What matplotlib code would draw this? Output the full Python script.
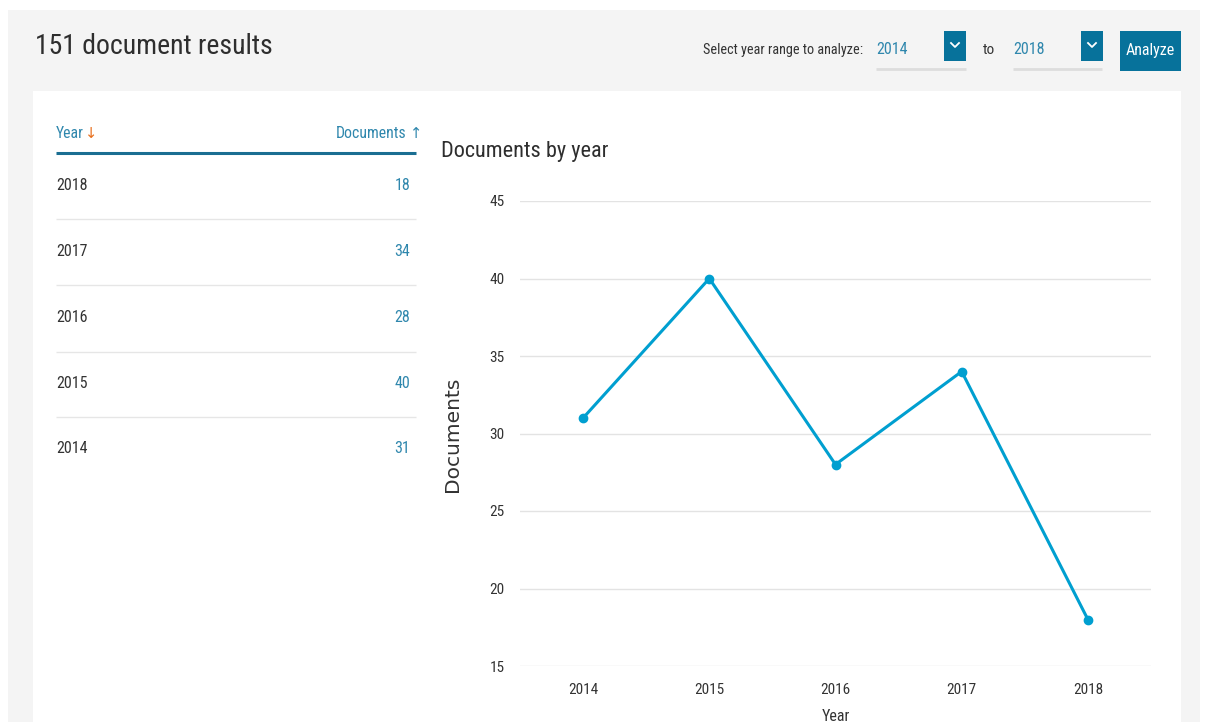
import matplotlib
matplotlib.use("Agg")
import matplotlib.pyplot as plt
from matplotlib import font_manager
from matplotlib.patches import Rectangle
from matplotlib.lines import Line2D

# ---------------- data ----------------
years = ["2014", "2015", "2016", "2017", "2018"]
documents = [31, 40, 28, 34, 18]
table_years = ["2018", "2017", "2016", "2015", "2014"]
table_docs = [18, 34, 28, 40, 31]
y_ticks = [15, 20, 25, 30, 35, 40, 45]
total_results = 151
range_from = "2014"
range_to = "2018"

# ---------------- fonts ----------------
available = {f.name for f in font_manager.fontManager.ttflist}
NARROW = next((f for f in ["Liberation Sans Narrow", "Roboto Condensed", "Open Sans Condensed",
                           "Lato", "Roboto"] if f in available), "DejaVu Sans")
FAM = [NARROW, "DejaVu Sans"]

W, H = 1207, 722
fig = plt.figure(figsize=(W / 100, H / 100), dpi=100)
fig.patch.set_facecolor("white")


def fx(x):
    return x / W


def fy(y):
    return 1 - y / H


def rect(x0, y0, x1, y1, color, z=0):
    fig.patches.append(Rectangle((fx(x0), fy(y1)), (x1 - x0) / W, (y1 - y0) / H,
                                 transform=fig.transFigure, facecolor=color,
                                 edgecolor="none", zorder=z))


def hline(x0, x1, y, color, lw):
    fig.lines.append(Line2D([fx(x0), fx(x1)], [fy(y), fy(y)], transform=fig.transFigure,
                            color=color, lw=lw, solid_capstyle="butt", zorder=2))


def text(x, y, s, size, color="#333333", ha="left", va="center", family=None, **kw):
    return fig.text(fx(x), fy(y), s, fontsize=size, color=color, ha=ha, va=va,
                    family=family or FAM, **kw)


# backgrounds
rect(8, 10, 1200, 722, "#f4f4f4", z=0)
rect(33, 91, 1181, 722, "#ffffff", z=1)

# header
text(35, 47, f"{total_results} document results", 20, color="#2e2e2e")
text(703, 50, "Select year range to analyze:", 10.3, color="#333333")
text(876, 49, range_from, 11.5, color="#2f87ad")
text(1013, 49, range_to, 11.5, color="#2f87ad")
text(983, 50, "to", 11, color="#333333")
hline(876, 966, 69, "#dddddd", 2)
hline(1013, 1102, 69, "#dddddd", 2)
for x0 in (944, 1081):
    rect(x0, 31, x0 + 22, 61, "#07729b", z=2)
    cx, cy = x0 + 11, 45
    fig.lines.append(Line2D([fx(cx - 4), fx(cx), fx(cx + 4)], [fy(cy - 2), fy(cy + 2), fy(cy - 2)],
                            transform=fig.transFigure, color="white", lw=1.3, zorder=3))
rect(1120, 31, 1181, 71, "#07729b", z=2)
text(1150.5, 50, "Analyze", 11.5, color="white", ha="center", zorder=3)

# left table
text(56, 133, "Year", 11.3, color="#2f87ad", zorder=3)
text(85, 134, "↓", 10.5, color="#e8701e", family=["DejaVu Sans"], zorder=3)
text(406, 133, "Documents", 11.3, color="#2f87ad", ha="right", zorder=3)
text(410, 134, "↑", 10.5, color="#2f87ad", family=["DejaVu Sans"], zorder=3)
hline(56, 416, 153, "#1a6e92", 2.2)
row_y = [185, 251, 318, 383, 449]
for i, (yr, d) in enumerate(zip(table_years, table_docs)):
    text(56, row_y[i], yr, 11.5, color="#333333", zorder=3)
    text(410, row_y[i], str(d), 11.5, color="#2f87ad", ha="right", zorder=3)
    if i < len(table_years) - 1:
        hline(56, 416, row_y[i] + 34, "#e6e6e6", 1)

# chart
text(441, 151, "Documents by year", 16, color="#2e2e2e", zorder=3)
ax = fig.add_axes([fx(520), fy(666), (1151 - 520) / W, (666 - 201) / H], zorder=3)
ax.set_facecolor("none")
xs = list(range(len(years)))
ax.plot(xs, documents, color="#009fd0", lw=2.2, marker="o", markersize=6, zorder=3)
ax.set_xlim(-0.5, len(years) - 0.5)
ax.set_ylim(min(y_ticks), max(y_ticks))
ax.set_yticks(y_ticks)
ax.set_xticks(xs)
ax.set_xticklabels(years)
for s in ax.spines.values():
    s.set_visible(False)
ax.grid(axis="y", color="#e3e3e3", lw=1)
ax.set_axisbelow(True)
ax.tick_params(length=0, labelsize=11, labelcolor="#333333")
ax.tick_params(axis="y", pad=11)
ax.tick_params(axis="x", pad=12)
for lab in ax.get_xticklabels() + ax.get_yticklabels():
    lab.set_family(FAM)
ax.set_xlabel("Year", fontsize=11.5, color="#333333", family=FAM, labelpad=9)
fig.text(fx(452), fy(434), "Documents", rotation=90, fontsize=14.5, color="#333333",
         family=["DejaVu Sans"], ha="center", va="center", zorder=3)

fig.savefig("out.png", dpi=100, facecolor=fig.get_facecolor())
